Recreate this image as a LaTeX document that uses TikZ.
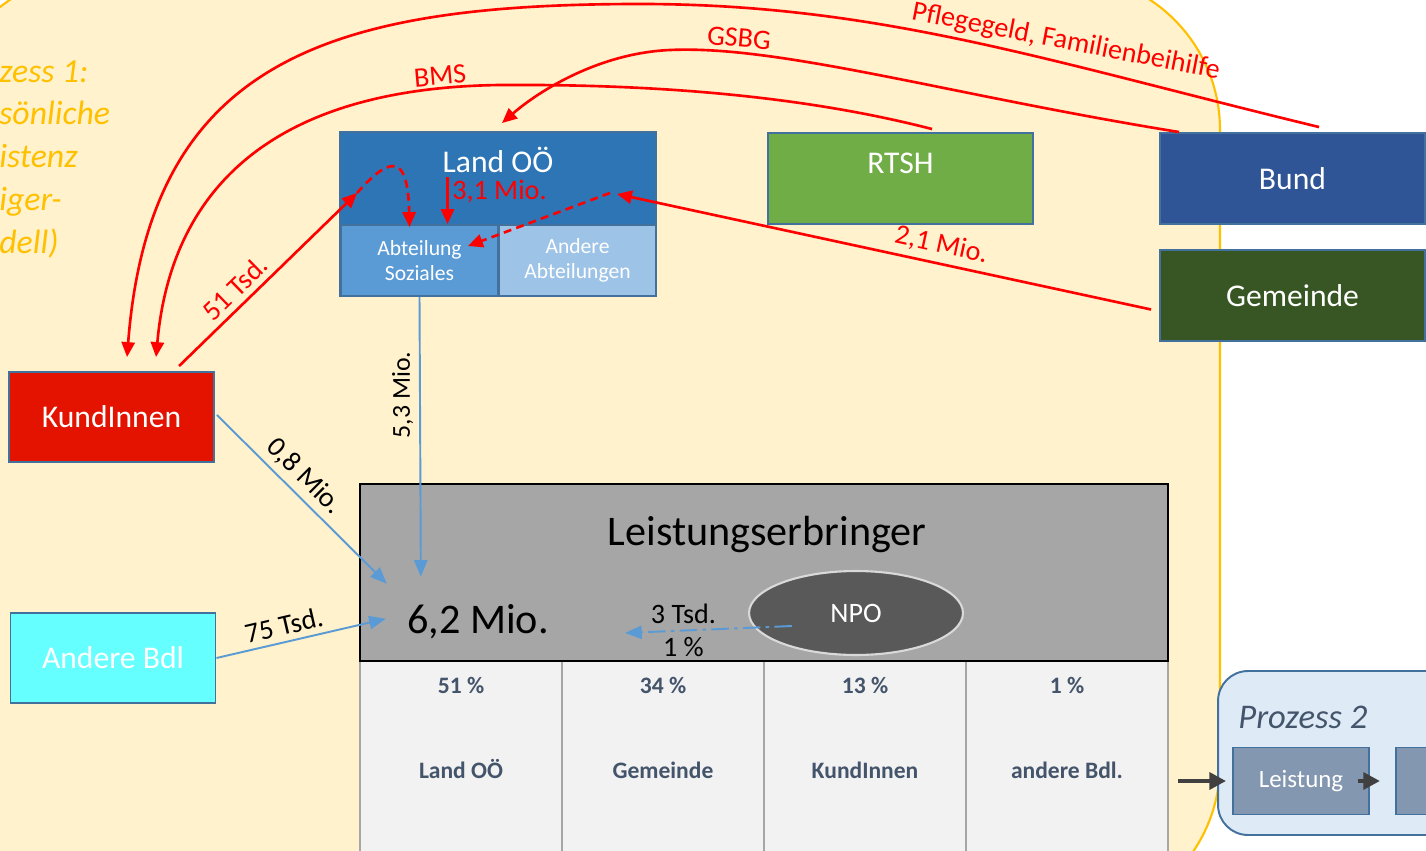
\documentclass[tikz,border=0pt]{standalone}
\usepackage{fontspec}
\setmainfont{Carlito}
\usepackage{tikz}
\usetikzlibrary{arrows.meta,positioning,calc,shapes.geometric}

\definecolor{bgyellow}{HTML}{FFF2CC}
\definecolor{bgline}{HTML}{FFC000}
\definecolor{landblue}{HTML}{2E75B6}
\definecolor{sozblue}{HTML}{5B9BD5}
\definecolor{abtblue}{HTML}{9DC3E6}
\definecolor{boxline}{HTML}{41719C}
\definecolor{rtshgreen}{HTML}{70AD47}
\definecolor{bundblue}{HTML}{2F5597}
\definecolor{gemgreen}{HTML}{375623}
\definecolor{kundred}{HTML}{E31300}
\definecolor{bdlcyan}{HTML}{66FFFF}
\definecolor{leistgray}{HTML}{A6A6A6}
\definecolor{npogray}{HTML}{595959}
\definecolor{npoline}{HTML}{D9D9D9}
\definecolor{cellfill}{HTML}{F2F2F2}
\definecolor{cellline}{HTML}{A6A6A6}
\definecolor{celltext}{HTML}{44546A}
\definecolor{p2fill}{HTML}{DEEBF7}
\definecolor{p2box}{HTML}{8497B0}
\definecolor{arrred}{HTML}{FF0000}
\definecolor{lineblue}{HTML}{5B9BD5}
\definecolor{arrgray}{HTML}{404040}

\begin{document}
\begin{tikzpicture}[x=0.02cm,y=-0.02cm,
  box/.style={draw=boxline,line width=1.1pt,inner sep=0pt,text=white,
    font=\fontsize{18}{21}\selectfont},
  subbox/.style={box,minimum width=3.14cm,minimum height=1.42cm,align=center,
    font=\fontsize{12.3}{14.2}\selectfont},
  bigbox/.style={box,minimum width=5.3cm,minimum height=1.82cm},
  sidebox/.style={box,minimum width=4.1cm,minimum height=1.8cm},
  redarr/.style={draw=arrred,line width=1.5pt,-{Triangle[length=8.5pt,width=7.5pt]}},
  bluearr/.style={draw=lineblue,line width=1.1pt,-{Triangle[length=9.5pt,width=7.5pt]}},
  lbl/.style={font=\fontsize{16}{18}\selectfont},
  cell/.style={draw=cellline,fill=cellfill,line width=0.8pt,
    minimum width=4.04cm,minimum height=4.78cm},
  celltxt/.style={text=celltext,font=\bfseries\fontsize{13.4}{15}\selectfont},
  grayarr/.style={draw=arrgray,line width=2.8pt,-{Triangle[length=9.5pt,width=9.5pt]}}]
  % page and clip
  \useasboundingbox (0,0) rectangle (1426,851);
  \clip (0,0) rectangle (1426,851);
  \fill[white] (0,0) rectangle (1426,851);
  % process 1 area
  \draw[fill=bgyellow,draw=bgline,line width=1.2pt,rounded corners=3.12cm]
    (-60,-26) rectangle (1220,920);
  % process 1 title, cut off at the left edge
  \foreach \t/\y [count=\i] in {zess 1:/83,sönliche/125,istenz/168,iger-/211,dell)/254}
    \node[anchor=base west,inner sep=0pt,text=bgline,
      font=\itshape\fontsize{19.2}{23}\selectfont] (p1l\i) at (-1,\y) {\t};

  % Land OÖ with its departments
  \node[box,fill=landblue,minimum width=6.32cm,minimum height=3.28cm] (land) at (498,214) {};
  \node[box,draw=none,anchor=base] (landtxt) at (498,173) {Land OÖ};
  \node[subbox,fill=sozblue] (soz) at (419.5,260.5) {Abteilung\\Soziales};
  \node[subbox,fill=abtblue] (abt) at (577.5,260.5) {Andere\\Abteilungen};
  % payers on the right
  \node[bigbox,fill=rtshgreen] (rtsh) at (900.5,178.5) {};
  \node[box,draw=none,anchor=base] (rtshtxt) at (900.5,174) {RTSH};
  \node[bigbox,fill=bundblue] (bund) at (1292.5,178.5) {Bund};
  \node[bigbox,fill=gemgreen] (gem) at (1292.5,295.5) {Gemeinde};
  % payers on the left
  \node[sidebox,fill=kundred] (kund) at (111.5,417) {KundInnen};
  \node[sidebox,fill=bdlcyan] (bdl) at (113,658) {Andere Bdl};

  % shares table
  \foreach \cx/\pct/\name [count=\i] in
    {461/51/Land OÖ,663/34/Gemeinde,865/13/KundInnen,1067/1/andere Bdl.} {
    \node[cell] (cell\i) at (\cx,780.5) {};
    \node[celltxt,anchor=base] (pct\i) at (\cx,693) {\pct\ \%};
    \node[celltxt,anchor=base] (name\i) at (\cx,778) {\name};
  }
  % Leistungserbringer
  \node[draw=black,line width=1.4pt,fill=leistgray,minimum width=16.16cm,
    minimum height=3.54cm] (leist) at (764,572.5) {};
  \node[anchor=base,font=\fontsize{24}{28}\selectfont] (leisttxt) at (767,545) {Leistungserbringer};
  \node[anchor=base,font=\fontsize{24}{28}\selectfont] (sum) at (478,633) {6,2 Mio.};
  \node[ellipse,draw=npoline,line width=1.2pt,fill=npogray,text=white,minimum width=4.28cm,
    minimum height=1.68cm,font=\fontsize{16}{18}\selectfont] (npo) at (856,613) {NPO};

  % Prozess 2
  \node[draw=boxline,line width=1.1pt,fill=p2fill,rounded corners=0.6cm,minimum width=5.64cm,
    minimum height=3.28cm] (proz2) at (1359,753) {};
  \node[anchor=base west,inner sep=0pt,text=celltext,font=\itshape\fontsize{19.7}{23}\selectfont]
    (proz2txt) at (1238,728) {Prozess 2};
  \node[box,fill=p2box,minimum width=2.72cm,minimum height=1.34cm,
    font=\fontsize{14.2}{17}\selectfont] (leistg) at (1301,781) {Leistung};
  \node[box,fill=p2box,minimum width=1.6cm,minimum height=1.34cm] (nextp2) at (1436,781) {};
  \coordinate (p2in) at (1178,781);
  \coordinate (p2a) at ($(leistg.east)+(-12,0)$);
  \coordinate (p2b) at ($(leistg.east)+(10,0)$);
  \draw[grayarr,shorten >=0.12cm] (p2in) -- (leistg.west);
  \draw[grayarr] (p2a) -- (p2b);

  % money flows (red)
  \draw[redarr] ($(bund.north west)+(160,-5)$) .. controls (1050,62) and (880,4) .. (640,4)
    .. controls (330,4) and (150,60) .. ($(kund.north west)+(119,-14)$);
  \node[lbl,text=arrred,rotate=-11] (pflege) at (1066,42) {Pflegegeld, Familienbeihilfe};
  \draw[redarr] ($(bund.north west)+(20,0)$) .. controls (950,95) and (780,45) .. (670,50)
    .. controls (600,53) and (540,90) .. ($(land.north)+(4,-8)$);
  \node[lbl,text=arrred,rotate=-5] (gsbg) at (739,38) {GSBG};
  \draw[redarr] ($(rtsh.north west)+(165,-3)$) .. controls (800,95) and (650,84) .. (500,85)
    .. controls (260,88) and (170,200) .. ($(kund.north west)+(148,-14)$);
  \node[lbl,text=arrred,rotate=5] (bms) at (440,76) {BMS};
  \coordinate (t51) at (357,193);
  \coordinate (t21) at (617,194);
  \draw[redarr] ($(kund.north west)+(171,-5)$) --
    node[lbl,text=arrred,sloped,above,pos=0.38] (l51) {51 Tsd.} (t51);
  \draw[redarr] ($(gem.west)+(-8,14)$) --
    node[lbl,text=arrred,sloped,above,pos=0.4] (l21) {2,1 Mio.} (t21);
  % inside Land OÖ
  \draw[redarr,dash pattern=on 4.5pt off 3pt] (t51) .. controls (395,150) and (408,160)
    .. ($(soz.north)+(-10,3)$);
  \draw[redarr] ($(soz.north)+(28,-47)$) --
    node[lbl,text=arrred,anchor=west,pos=0.3,inner sep=2pt] (l31) {3,1 Mio.} ($(soz.north)+(28,0)$);
  \draw[redarr,dash pattern=on 4.5pt off 3pt] ($(t21)+(-7,-1)$) -- ($(soz.north east)+(-31,22)$);

  % money flows (blue)
  \coordinate (in53) at ($(leist.north west)+(62,94)$);
  \draw[bluearr] (soz.south) --
    node[font=\fontsize{14.7}{17}\selectfont,rotate=90,above,pos=0.35] (l53) {5,3 Mio.} (in53);
  \draw[bluearr] ($(kund.east)+(2,-2)$) --
    node[lbl,sloped,above,pos=0.44] (l08) {0,8 Mio.} ($(leist.north west)+(28,101)$);
  \draw[bluearr] (bdl.east) --
    node[lbl,sloped,above,pos=0.42] (l75) {75 Tsd.} ($(leist.north west)+(27,136)$);
  \draw[bluearr,dash pattern=on 10pt off 3pt on 2pt off 3pt] ($(npo.center)+(-64,13)$) --
    node[lbl,above,pos=0.65] (l3t) {3 Tsd.} node[lbl,below,pos=0.65] (l1p) {1 \%}
    ($(npo.center)+(-231,20)$);
\end{tikzpicture}
\end{document}
